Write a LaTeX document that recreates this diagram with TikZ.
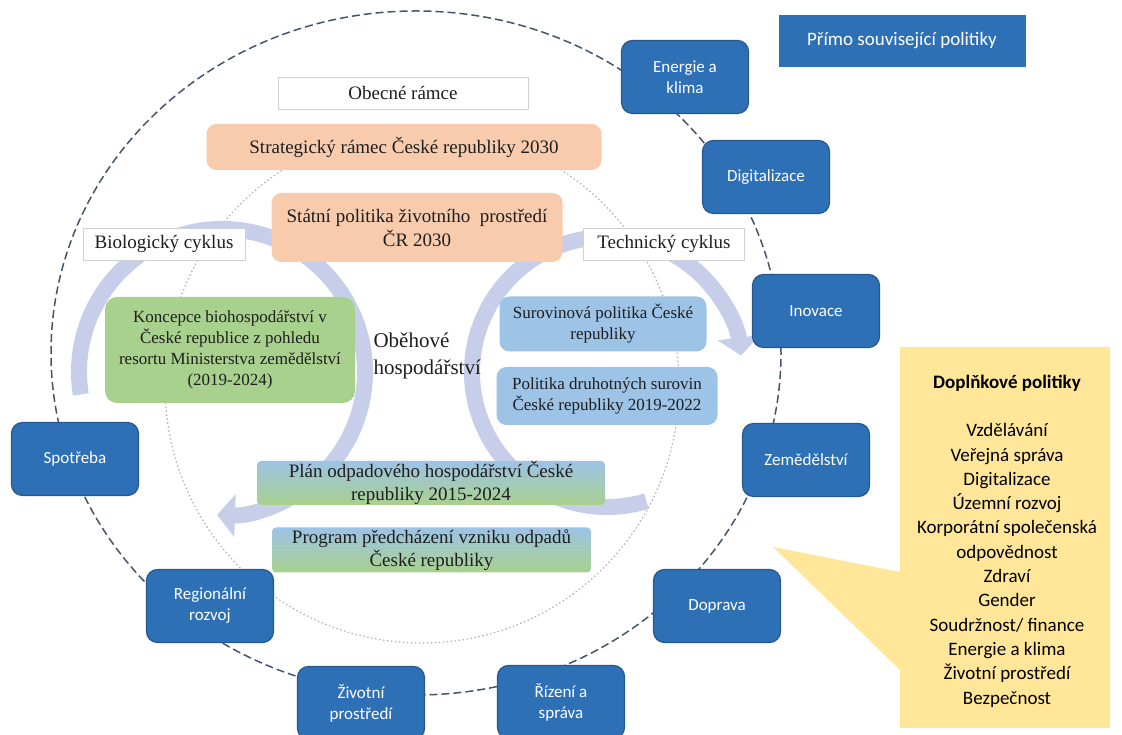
\documentclass[tikz,border=0pt]{standalone}
\usepackage{fontspec}
\setmainfont{Liberation Serif}
\newfontfamily\calibri{Carlito}
\usetikzlibrary{arrows.meta}
\usetikzlibrary{positioning}

\definecolor{policyblue}{RGB}{46,112,182}
\definecolor{policyedge}{RGB}{38,88,142}
\definecolor{salmon}{RGB}{248,203,173}
\definecolor{leafgreen}{RGB}{169,209,142}
\definecolor{skyblue}{RGB}{157,195,230}
\definecolor{cyclelav}{RGB}{198,206,234}
\definecolor{calloutyellow}{RGB}{255,230,153}
\definecolor{ringslate}{RGB}{68,84,106}
\definecolor{ringgray}{RGB}{178,178,178}
\definecolor{framegray}{RGB}{205,208,214}
\definecolor{inkgray}{RGB}{30,30,30}

\tikzset{
  policy/.style={draw=policyedge, line width=1.2pt, fill=policyblue, rounded corners=11pt,
    text=white, font=\calibri\fontsize{17}{21}\selectfont, align=center,
    minimum width=127pt, minimum height=73pt, inner sep=2pt},
  framelabel/.style={draw=framegray, line width=0.8pt, fill=white, text=inkgray,
    font=\fontsize{19}{23}\selectfont, minimum height=32pt, inner sep=0pt},
  framework/.style={fill=salmon, rounded corners=10pt, text=inkgray, align=center,
    font=\fontsize{19}{24}\selectfont, inner sep=0pt},
  rawbox/.style={fill=skyblue, rounded corners=10pt, text=inkgray, align=center,
    font=\fontsize{17}{21}\selectfont, inner sep=0pt},
  wastebox/.style={top color=skyblue, bottom color=leafgreen, rounded corners=4pt,
    text=inkgray, align=center, font=\fontsize{19}{23}\selectfont, inner sep=0pt},
  cyclearrow/.style={draw=cyclelav, line width=16pt, -{Triangle[length=18pt,width=42pt]}}
}

\begin{document}
\begin{tikzpicture}[x=1pt,y=1pt]
  \useasboundingbox (0,0) rectangle (1122,735);

  % rings
  \draw[ringslate, line width=1.5pt, dash pattern=on 8pt off 4pt] (416,382) ellipse[x radius=365, y radius=342];
  \draw[ringgray, line width=1.2pt, dash pattern=on 1.5pt off 2.5pt] (422,349) circle[radius=257];

  % cycles
  \draw[cyclearrow] (222,363) ++(189:143) arc[start angle=189, end angle=-92, radius=143];
  \draw[cyclearrow] (607,363) ++(-73:135) arc[start angle=-73, end angle=-353, radius=135];

  % callout
  \fill[calloutyellow] (900,388) -- (1110,388) -- (1110,7) -- (900,7) -- (900,65)
    -- (773,188) -- (900,163) -- cycle;
  \node[font=\calibri\fontsize{19}{24.3}\selectfont, align=center, text=black] (doplnkove) at (1007,194)
    {\textbf{Doplňkové politiky}\\[24.3pt]Vzdělávání\\Veřejná správa\\Digitalizace\\Územní rozvoj\\
     Korporátní společenská\\odpovědnost\\Zdraví\\Gender\\Soudržnost/ finance\\Energie a klima\\
     Životní prostředí\\Bezpečnost};

  \node[fill=policyblue, text=white, font=\calibri\fontsize{19}{23}\selectfont,
    minimum width=247pt, minimum height=52pt] (primo) at (902,694) {Přímo související politiky};

  % policies on the ring
  \node[policy] (energie) at (685,658) {Energie a\\klima};
  \node[policy] (digital) at (766,558) {Digitalizace};
  \node[policy] (inovace) at (816,424) {Inovace};
  \node[policy] (zemed) at (806,275) {Zemědělství};
  \node[policy] (doprava) at (717,129) {Doprava};
  \node[policy] (rizeni) at (561,33) {Řízení a\\správa};
  \node[policy] (zivotni) at (361,32) {Životní\\prostředí};
  \node[policy] (region) at (210,129) {Regionální\\rozvoj};
  \node[policy] (spotreba) at (75,276) {Spotřeba};

  % inner frameworks
  \node[framelabel, minimum width=250pt] (obecne) at (403,642) {Obecné rámce};
  \node[framework, minimum width=395pt, minimum height=46pt] (strateg) at (404,588)
    {Strategický rámec České republiky 2030};
  \node[framework, minimum width=291pt, minimum height=69pt] (statni) at (417,507.5)
    {Státní politika životního\ \ prostředí\\ČR 2030};
  \node[framelabel, minimum width=162pt] (bio) at (164,491) {Biologický cyklus};
  \node[framelabel, minimum width=161pt] (tech) at (664,491) {Technický cyklus};
  \node[fill=leafgreen, rounded corners=12pt, text=inkgray, align=center,
    font=\fontsize{17}{21}\selectfont, minimum width=250pt, minimum height=106pt] (koncepce) at (230,385)
    {Koncepce biohospodářství v\\České republice z pohledu\\resortu Ministerstva zemědělství\\(2019-2024)};
  \node[anchor=west, align=left, text=inkgray, font=\fontsize{21}{27}\selectfont] (obehove) at (370,379)
    {Oběhové\\hospodářství};
  \node[rawbox, minimum width=207pt, minimum height=55pt] (surovin) at (603,411)
    {Surovinová politika České\\republiky};
  \node[rawbox, minimum width=221pt, minimum height=58pt] (druhot) at (607,339)
    {Politika druhotných surovin\\České republiky 2019-2022};
  \node[wastebox, minimum width=348pt, minimum height=44pt] (plan) at (431,252)
    {Plán odpadového hospodářství České\\republiky 2015-2024};
  \node[wastebox, minimum width=319pt, minimum height=45pt] (program) at (431.5,185)
    {Program předcházení vzniku odpadů\\České republiky};
\end{tikzpicture}
\end{document}
